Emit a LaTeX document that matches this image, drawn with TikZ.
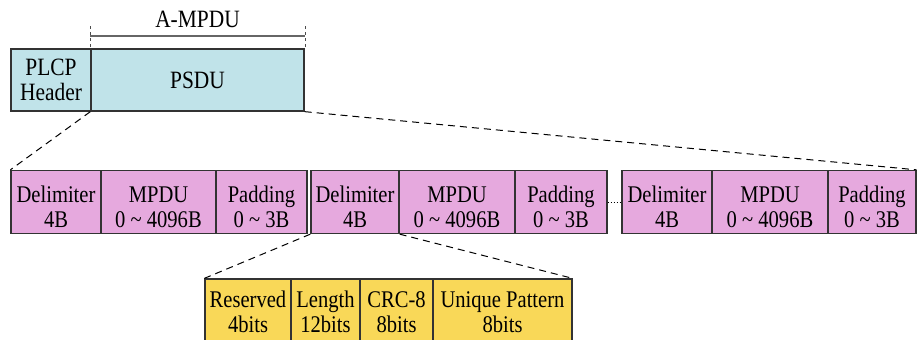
\documentclass[tikz,border=0pt]{standalone}
\usepackage{fontspec}
\setmainfont{Liberation Serif}
\newfontfamily\tallserif[FakeStretch=0.86]{Liberation Serif}
\definecolor{phyblue}{HTML}{C0E3E9}
\definecolor{macpink}{HTML}{E6A9DE}
\definecolor{dlmyellow}{HTML}{F9D858}
\begin{document}
\begin{tikzpicture}[x=1bp,y=-1bp,
  frame/.style={draw=black!80, line width=1.3bp, inner sep=0pt, align=center,
    font=\tallserif\fontsize{24}{24.5}\selectfont},
  hdr/.style={frame, fill=phyblue, font=\tallserif\fontsize{25}{25.5}\selectfont},
  mac/.style={frame, fill=macpink, minimum height=63bp, text height=50bp, text depth=0bp},
  dlm/.style={frame, fill=dlmyellow, minimum height=66bp, text height=40bp, text depth=0bp},
  zoomline/.style={black, dashed, dash pattern=on 7bp off 5bp, line width=1bp}]
\useasboundingbox (0,0) rectangle (918,339);

% PHY frame
\node[hdr, minimum width=80bp, minimum height=62bp] (plcp) at (51,80) {PLCP\\Header};
\node[hdr, minimum width=213bp, minimum height=62bp] (psdu) at (197.5,80) {PSDU};

% A-MPDU span marker
\coordinate (bl) at (90,26);  \coordinate (blb) at (90,48);
\coordinate (br) at (305,26); \coordinate (brb) at (305,48);
\coordinate (ml) at (90,36);  \coordinate (mr) at (305,36);
\draw[black!70, dashed, dash pattern=on 3bp off 3bp, line width=1bp] (bl) -- (blb) (br) -- (brb);
\draw[black!60, line width=1.5bp] (ml) -- (mr);
\node[font=\tallserif\fontsize{25}{25.5}\selectfont] (ampdu) at (197.5,19) {A-MPDU};

% A-MPDU subframes
\node[mac, minimum width=90bp]  (d1) at (56,202)  {Delimiter\\4B};
\node[mac, minimum width=115bp] (m1) at (158.5,202) {MPDU\\0 \textasciitilde{} 4096B};
\node[mac, minimum width=91bp]  (p1) at (261.5,202) {Padding\\0 \textasciitilde{} 3B};

\node[mac, minimum width=88bp]  (d2) at (355,202) {Delimiter\\4B};
\node[mac, minimum width=116bp] (m2) at (457,202) {MPDU\\0 \textasciitilde{} 4096B};
\node[mac, minimum width=92bp]  (p2) at (561,202) {Padding\\0 \textasciitilde{} 3B};

\node[mac, minimum width=90bp]  (d3) at (667,202) {Delimiter\\4B};
\node[mac, minimum width=116bp] (m3) at (770,202) {MPDU\\0 \textasciitilde{} 4096B};
\node[mac, minimum width=88bp]  (p3) at (872,202) {Padding\\0 \textasciitilde{} 3B};

\draw[black, dotted, line width=1bp] (p2.east) -- (d3.west);

% Delimiter fields
\node[dlm, minimum width=86bp]  (rsv) at (248,312)   {Reserved\\4bits};
\node[dlm, minimum width=69bp]  (len) at (325.5,312) {Length\\12bits};
\node[dlm, minimum width=73bp]  (crc) at (396.5,312) {CRC-8\\8bits};
\node[dlm, minimum width=139bp] (upt) at (502.5,312) {Unique Pattern\\8bits};

% Expansion guides
\draw[zoomline] (psdu.south west) -- (d1.north west);
\draw[zoomline] (psdu.south east) -- (p3.north east);
\draw[zoomline] (d2.south west) -- (rsv.north west);
\draw[zoomline] (d2.south east) -- (upt.north east);
\end{tikzpicture}
\end{document}
